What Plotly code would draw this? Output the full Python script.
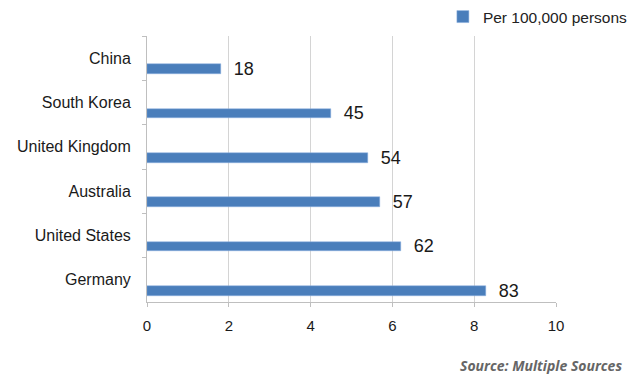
import plotly.graph_objects as go

countries = ["China", "South Korea", "United Kingdom", "Australia", "United States", "Germany"]
values = [1.8, 4.5, 5.4, 5.7, 6.2, 8.3]
labels = ["18", "45", "54", "57", "62", "83"]
series_name = "Per 100,000 persons"
x_ticks = [0, 2, 4, 6, 8, 10]
source_text = "Source: Multiple Sources"

fig = go.Figure()
fig.add_trace(go.Bar(
    y=countries, x=values, orientation="h", name=series_name,
    text=labels, texttemplate="\u00a0\u00a0%{text}", textposition="outside",
    cliponaxis=False, constraintext="none",
    textfont=dict(family="Liberation Sans", size=18, color="#1a1a1a"),
    marker=dict(color="#4a7ebb", line=dict(color="#8fb3e0", width=0.5)),
    width=0.22, offset=0.14,
))

fig.update_layout(
    width=640, height=381,
    margin=dict(l=147, r=84, t=36, b=79, autoexpand=False),
    plot_bgcolor="white", paper_bgcolor="white",
    font=dict(family="Liberation Sans", size=14, color="#1a1a1a"),
    showlegend=True,
    legend=dict(orientation="h", xref="container", yref="container",
                x=0.692, xanchor="left", y=1.0, yanchor="top",
                font=dict(size=15.5, color="#222"), bgcolor="rgba(0,0,0,0)",
                itemwidth=30),
    bargap=0,
)
fig.update_xaxes(
    range=[0, 10], tickvals=x_ticks, showgrid=True, gridcolor="#d4d4d4", gridwidth=1,
    showline=True, linecolor="#bfbfbf", ticks="outside", ticklen=4, tickcolor="#bfbfbf",
    tickfont=dict(size=15, color="#1a1a1a"), zeroline=False, fixedrange=True,
    automargin=False, ticklabelstandoff=6,
)
fig.update_yaxes(
    categoryorder="array", categoryarray=countries, range=[5.5, -0.5],
    showline=True, linecolor="#bfbfbf", ticks="outside", ticklen=4, tickcolor="#bfbfbf",
    tickson="boundaries", showgrid=False, tickfont=dict(size=16, color="#1a1a1a"),
    ticklabelstandoff=12, automargin=False,
)
fig.add_annotation(
    text="<b><i>" + source_text + "</i></b>", xref="paper", yref="paper",
    x=1.166, y=-0.24, xanchor="right", yanchor="middle", showarrow=False,
    font=dict(family="Open Sans", size=14, color="#666666"),
)
fig.write_html("out.html", config={"displayModeBar": False},
               post_script="document.body.style.margin='0px';")
